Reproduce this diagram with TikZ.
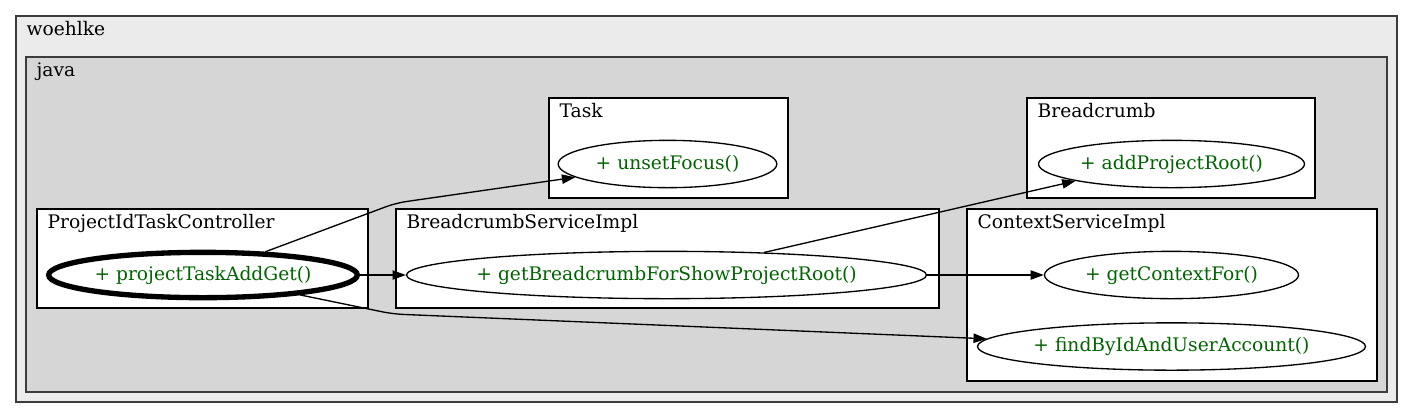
\documentclass[tikz,border=0pt]{standalone}
\usepackage{fontspec}
\setmainfont{DejaVu Serif}
\usetikzlibrary{shapes.geometric, arrows.meta, positioning, fit}
\definecolor{inkcolor}{HTML}{000000}
\definecolor{pkgline}{HTML}{3C3C3C}
\definecolor{outerfill}{HTML}{EBEBEB}
\definecolor{innerfill}{HTML}{D6D6D6}
\definecolor{methodtext}{HTML}{006400}

\begin{document}
\begin{tikzpicture}[
  x=0.75pt, y=-0.75pt,
  every node/.style={font=\fontsize{14}{17}\selectfont},
  line width=1pt,
]

\tikzset{
  package/.style={rectangle, draw=pkgline, inner sep=0pt},
  classbox/.style={rectangle, draw=inkcolor, fill=white, inner sep=0pt},
  boxlabel/.style={anchor=base west, inner sep=0pt, xshift=8pt, yshift=-15.4pt},
  method/.style={ellipse, draw=inkcolor, fill=white, text=methodtext,
    inner xsep=-40pt, inner ysep=0pt, minimum height=35.5pt},
  entrymethod/.style={method, line width=4pt, minimum height=34pt},
  callline/.style={-{Triangle[length=10pt, width=7pt]}, inkcolor},
}

\useasboundingbox (0,0) rectangle (1414,419);

% ---------------------------------------------------------------
% packages
% ---------------------------------------------------------------
\node[package, fill=outerfill, fit={(16,16) (1397,402)}] (woehlke) {};
\node[boxlabel] at (woehlke.north west) {woehlke};
\node[package, fill=innerfill, fit={(26,57) (1387,392)}] (java) {};
\node[boxlabel] at (java.north west) {java};

% ---------------------------------------------------------------
% classes
% ---------------------------------------------------------------
\node[classbox, fit={(549,98) (788,198)}]   (task)     {};
\node[classbox, fit={(1027,98) (1315,198)}] (crumb)    {};
\node[classbox, fit={(37,209) (368,308)}]   (ctrl)     {};
\node[classbox, fit={(396,209) (939,308)}]  (crumbsvc) {};
\node[classbox, fit={(967,209) (1377,381)}] (ctxsvc)   {};

\node[boxlabel] at (task.north west)     {Task};
\node[boxlabel] at (crumb.north west)    {Breadcrumb};
\node[boxlabel] at (ctrl.north west)     {ProjectIdTaskController};
\node[boxlabel] at (crumbsvc.north west) {BreadcrumbServiceImpl};
\node[boxlabel] at (ctxsvc.north west)   {ContextServiceImpl};

% ---------------------------------------------------------------
% methods
% ---------------------------------------------------------------
\node[method, minimum width=164pt]      (unsetfocus) at (667.5,164)  {+ unsetFocus()};
\node[method, minimum width=199.5pt]    (addroot)    at (1171.5,164) {+ addProjectRoot()};
\node[entrymethod, minimum width=231.5pt] (addget)   at (203,275)    {+ projectTaskAddGet()};
\node[method, minimum width=390pt]      (showroot)   at (666.5,275)  {+ getBreadcrumbForShowProjectRoot()};
\node[method, minimum width=190.5pt]    (ctxfor)     at (1171.5,275) {+ getContextFor()};
\node[method, minimum width=291pt]      (findacct)   at (1171.5,346.5) {+ findByIdAndUserAccount()};

% calls
\coordinate (upperlane) at (396,203);
\coordinate (lowerlane) at (393,314);

\draw[callline, rounded corners=8pt] (addget) -- (upperlane) -- (unsetfocus);
\draw[callline] (addget) -- (showroot);
\draw[callline, rounded corners=8pt] (addget) -- (lowerlane) -- (findacct);
\draw[callline] (showroot.13) -- (addroot.190);
\draw[callline] (showroot) -- (ctxfor);

\end{tikzpicture}
\end{document}
